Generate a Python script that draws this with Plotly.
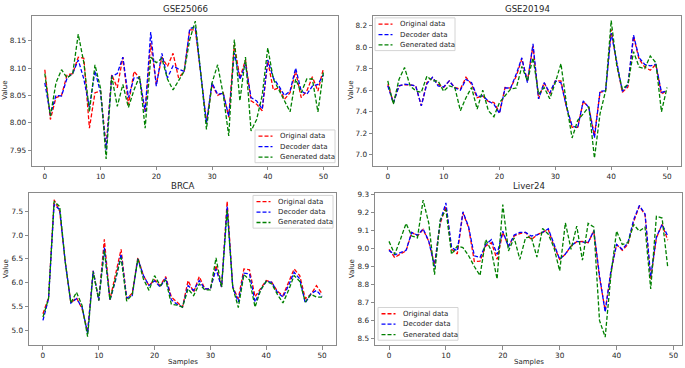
import plotly.graph_objects as go

# ---------------- data ----------------
titles = ["GSE25066", "GSE20194", "BRCA", "Liver24"]
series_names = ["Original data", "Decoder data", "Generated data"]
series_colors = ["#ff0000", "#0000ff", "#008000"]

samples_51 = list(range(51))
samples_50 = list(range(50))

gse25066_original = [8.097, 8.006, 8.046, 8.050, 8.088, 8.090, 8.120, 8.118, 7.990, 8.055, 8.058, 7.955, 8.088, 8.064, 8.120, 8.033, 8.094, 8.082, 8.020, 8.146, 8.070, 8.120, 8.103, 8.127, 8.082, 8.094, 8.170, 8.170, 8.088, 8.000, 8.070, 8.050, 8.055, 8.010, 8.143, 8.082, 8.115, 8.040, 8.034, 8.022, 8.113, 8.060, 8.064, 8.043, 8.055, 8.094, 8.046, 8.058, 8.084, 8.058, 8.100]
gse25066_decoder = [8.073, 8.015, 8.050, 8.049, 8.082, 8.090, 8.115, 8.080, 8.028, 8.095, 8.055, 7.950, 8.085, 8.090, 8.120, 8.046, 8.082, 8.082, 8.020, 8.166, 8.067, 8.127, 8.082, 8.104, 8.098, 8.094, 8.172, 8.176, 8.088, 8.000, 8.073, 8.052, 8.054, 8.012, 8.128, 8.079, 8.107, 8.046, 8.040, 8.025, 8.115, 8.082, 8.067, 8.050, 8.058, 8.100, 8.058, 8.052, 8.067, 8.070, 8.088]
gse25066_generated = [8.090, 8.012, 8.073, 8.097, 8.082, 8.090, 8.162, 8.110, 8.020, 8.106, 8.063, 7.934, 8.085, 8.030, 8.070, 8.028, 8.060, 8.085, 7.990, 8.120, 8.110, 8.118, 8.080, 8.060, 8.077, 8.094, 8.152, 8.186, 8.088, 7.988, 8.073, 8.106, 8.052, 7.976, 8.152, 8.040, 8.120, 7.985, 8.006, 8.050, 8.137, 8.080, 8.060, 8.040, 8.020, 8.080, 8.055, 8.080, 8.080, 8.020, 8.094]

gse20194_original = [7.655, 7.486, 7.640, 7.650, 7.650, 7.640, 7.455, 7.670, 7.717, 7.655, 7.625, 7.686, 7.625, 7.610, 7.720, 7.655, 7.530, 7.546, 7.495, 7.486, 7.394, 7.625, 7.620, 7.730, 7.890, 7.686, 8.010, 7.520, 7.670, 7.563, 7.686, 7.686, 7.440, 7.255, 7.255, 7.495, 7.440, 7.180, 7.580, 7.594, 8.163, 7.840, 7.580, 7.630, 8.100, 7.886, 7.815, 7.785, 7.840, 7.563, 7.600]
gse20194_decoder = [7.640, 7.480, 7.640, 7.655, 7.650, 7.640, 7.455, 7.660, 7.720, 7.640, 7.630, 7.686, 7.620, 7.600, 7.700, 7.670, 7.540, 7.546, 7.500, 7.470, 7.385, 7.620, 7.620, 7.750, 7.900, 7.670, 8.030, 7.520, 7.670, 7.575, 7.686, 7.670, 7.445, 7.270, 7.250, 7.500, 7.440, 7.157, 7.590, 7.594, 8.130, 7.840, 7.590, 7.650, 8.110, 7.900, 7.840, 7.826, 7.840, 7.580, 7.594]
gse20194_generated = [7.686, 7.470, 7.700, 7.810, 7.640, 7.594, 7.580, 7.730, 7.686, 7.686, 7.590, 7.640, 7.625, 7.410, 7.530, 7.625, 7.425, 7.600, 7.410, 7.354, 7.486, 7.550, 7.610, 7.620, 7.820, 7.686, 7.900, 7.563, 7.625, 7.520, 7.670, 7.846, 7.470, 7.157, 7.320, 7.380, 7.447, 6.970, 7.380, 7.594, 8.246, 7.825, 7.610, 7.655, 7.957, 7.815, 7.800, 7.917, 7.855, 7.400, 7.625]

brca_original = [5.35, 5.685, 7.74, 7.50, 6.43, 5.575, 5.685, 5.457, 4.97, 6.25, 5.63, 6.91, 5.644, 6.15, 6.70, 5.665, 5.78, 6.53, 6.15, 5.94, 6.06, 5.94, 6.13, 5.70, 5.60, 5.49, 6.045, 5.80, 6.13, 5.87, 5.87, 6.36, 5.91, 7.71, 5.91, 5.665, 6.29, 6.27, 5.71, 5.87, 6.045, 6.01, 5.82, 5.73, 6.01, 6.29, 6.15, 5.665, 5.755, 5.94, 5.77]
brca_decoder = [5.21, 5.665, 7.64, 7.53, 6.43, 5.575, 5.665, 5.49, 4.94, 6.25, 5.63, 6.74, 5.63, 6.045, 6.60, 5.685, 5.73, 6.50, 6.15, 5.94, 6.04, 5.91, 6.10, 5.645, 5.55, 5.49, 5.94, 5.84, 6.045, 5.87, 5.87, 6.29, 5.91, 7.60, 5.91, 5.595, 6.20, 6.185, 5.595, 5.85, 6.03, 6.01, 5.80, 5.70, 5.94, 6.22, 6.08, 5.575, 5.77, 5.84, 5.71]
brca_generated = [5.28, 5.665, 7.71, 7.60, 6.43, 5.575, 5.80, 5.526, 4.87, 6.23, 5.63, 6.68, 5.644, 6.10, 6.53, 5.616, 5.755, 6.50, 6.08, 5.84, 6.15, 5.94, 6.06, 5.55, 5.53, 5.49, 5.87, 5.73, 5.976, 5.85, 5.85, 6.52, 5.91, 7.535, 5.91, 5.48, 6.17, 6.06, 5.49, 5.85, 6.03, 5.976, 5.755, 5.575, 5.84, 6.15, 6.03, 5.595, 5.755, 5.70, 5.70]

liver24_original = [8.996, 8.950, 8.970, 8.987, 9.090, 9.070, 9.106, 9.040, 8.910, 9.140, 9.235, 8.996, 8.970, 9.200, 9.116, 8.928, 8.930, 9.014, 9.033, 8.940, 9.090, 9.014, 9.070, 9.083, 9.090, 9.050, 9.076, 9.090, 9.106, 9.014, 8.940, 8.968, 9.014, 9.038, 9.040, 9.033, 9.097, 8.840, 8.655, 8.867, 9.023, 8.990, 9.023, 9.150, 9.235, 9.190, 8.830, 9.060, 9.134, 9.046]
liver24_decoder = [8.990, 8.965, 8.977, 8.990, 9.090, 9.075, 9.110, 9.040, 8.900, 9.150, 9.254, 9.005, 8.987, 9.205, 9.120, 8.960, 8.950, 9.023, 9.050, 8.968, 9.097, 9.010, 9.075, 9.090, 9.090, 9.070, 9.076, 9.090, 9.110, 9.023, 8.940, 8.970, 9.014, 9.040, 9.038, 9.033, 9.100, 8.850, 8.646, 8.876, 9.023, 8.996, 9.033, 9.160, 9.240, 9.193, 8.843, 9.064, 9.134, 9.070]
liver24_generated = [9.040, 8.968, 9.050, 9.140, 9.070, 9.060, 9.270, 9.140, 8.854, 9.160, 9.217, 8.968, 9.014, 9.005, 8.960, 8.900, 8.850, 9.050, 8.987, 8.830, 9.245, 8.987, 9.060, 8.940, 9.060, 9.065, 8.953, 9.112, 9.080, 9.005, 8.876, 9.143, 8.996, 9.125, 8.935, 9.140, 9.120, 8.600, 8.507, 8.850, 9.097, 9.023, 9.033, 9.134, 9.097, 9.120, 8.775, 9.180, 9.170, 8.894]

x_ticks = [0, 10, 20, 30, 40, 50]

# ---------------- layout helpers ----------------
W, H = 685, 368
FONT = "DejaVu Sans"
AXC = "#8a8a8a"
TXT = "#262626"

def px_x(x):
    return x / W

def px_y(y):
    return 1 - y / H

panels = [
    dict(title=titles[0], x=samples_51,
         ys=[gse25066_original, gse25066_decoder, gse25066_generated],
         box=(32, 13, 338, 164), xr=[-2.3, 52.6], yr=[7.9215, 8.1955],
         dtick=0.05, fmt=".2f", ylabel_x=5, xlabel=False, legend=(255, 128)),
    dict(title=titles[1], x=samples_51,
         ys=[gse20194_original, gse20194_decoder, gse20194_generated],
         box=(373, 13, 681, 164), xr=[-2.65, 52.5], yr=[6.90, 8.289],
         dtick=0.2, fmt=".1f", ylabel_x=351, xlabel=False, legend=(375, 15)),
    dict(title=titles[2], x=samples_51,
         ys=[brca_original, brca_decoder, brca_generated],
         box=(29, 192, 336, 345), xr=[-2.5, 52.5], yr=[4.69, 7.874],
         dtick=0.5, fmt=".1f", ylabel_x=6, xlabel=True, legend=(253, 194)),
    dict(title=titles[3], x=samples_50,
         ys=[liver24_original, liver24_decoder, liver24_generated],
         box=(375, 192, 682, 345), xr=[-2.46, 51.5], yr=[8.462, 9.307],
         dtick=0.1, fmt=".1f", ylabel_x=352, xlabel=True, legend=(378, 307)),
]

fig = go.Figure()
annotations = []
shapes = []

for k, p in enumerate(panels, start=1):
    sx = "" if k == 1 else str(k)
    for name, color, yv in zip(series_names, series_colors, p["ys"]):
        fig.add_trace(go.Scatter(
            x=p["x"], y=yv, mode="lines", name=name, showlegend=False,
            line=dict(color=color, width=1.3, dash="4px,2px"),
            xaxis="x" + sx, yaxis="y" + sx,
        ))
    x0, y0, x1, y1 = p["box"]
    common = dict(showline=True, mirror=True, linecolor=AXC, linewidth=1,
                  ticks="outside", ticklen=3.5, tickwidth=1, tickcolor=AXC,
                  showgrid=False, zeroline=False,
                  tickfont=dict(family=FONT, size=7.3, color=TXT))
    fig.layout["xaxis" + sx] = dict(domain=[px_x(x0), px_x(x1)], range=p["xr"],
                                    anchor="y" + sx, tickvals=x_ticks, **common)
    fig.layout["yaxis" + sx] = dict(domain=[px_y(y1), px_y(y0)], range=p["yr"],
                                    anchor="x" + sx, dtick=p["dtick"], tick0=0,
                                    tickformat=p["fmt"], **common)
    cx = (x0 + x1) / 2
    # title
    annotations.append(dict(text=p["title"], x=px_x(cx), y=px_y(y0 - 7),
                            xref="paper", yref="paper", showarrow=False,
                            xanchor="center", yanchor="middle",
                            font=dict(family=FONT, size=8.6, color=TXT)))
    # y label
    annotations.append(dict(text="Value", x=px_x(p["ylabel_x"]), y=px_y((y0 + y1) / 2),
                            xref="paper", yref="paper", showarrow=False, textangle=-90,
                            xanchor="center", yanchor="middle",
                            font=dict(family=FONT, size=7, color=TXT)))
    if p["xlabel"]:
        annotations.append(dict(text="Samples", x=px_x(cx), y=px_y(361.5),
                                xref="paper", yref="paper", showarrow=False,
                                xanchor="center", yanchor="middle",
                                font=dict(family=FONT, size=7, color=TXT)))
    # legend box
    lx, ly = p["legend"]
    shapes.append(dict(type="rect", xref="paper", yref="paper",
                       x0=px_x(lx), x1=px_x(lx + 80), y0=px_y(ly + 33), y1=px_y(ly),
                       fillcolor="rgba(255,255,255,0.85)",
                       line=dict(color="#d4d4d4", width=1)))
    for r, (name, color) in enumerate(zip(series_names, series_colors)):
        ry = ly + 6.3 + r * 10.5
        shapes.append(dict(type="line", xref="paper", yref="paper",
                           x0=px_x(lx + 3.5), x1=px_x(lx + 17.5), y0=px_y(ry), y1=px_y(ry),
                           line=dict(color=color, width=1.3, dash="4px,2px")))
        annotations.append(dict(text=name, x=px_x(lx + 22.5), y=px_y(ry),
                                xref="paper", yref="paper", showarrow=False,
                                xanchor="left", yanchor="middle",
                                font=dict(family=FONT, size=7, color=TXT)))

fig.update_layout(
    width=W, height=H,
    margin=dict(l=0, r=0, t=0, b=0),
    paper_bgcolor="white", plot_bgcolor="white",
    annotations=annotations, shapes=shapes,
    showlegend=False,
)

fig.write_html(
    "out.html",
    config={"displayModeBar": False},
    post_script="document.body.style.margin='0';document.body.style.overflow='hidden';",
)
